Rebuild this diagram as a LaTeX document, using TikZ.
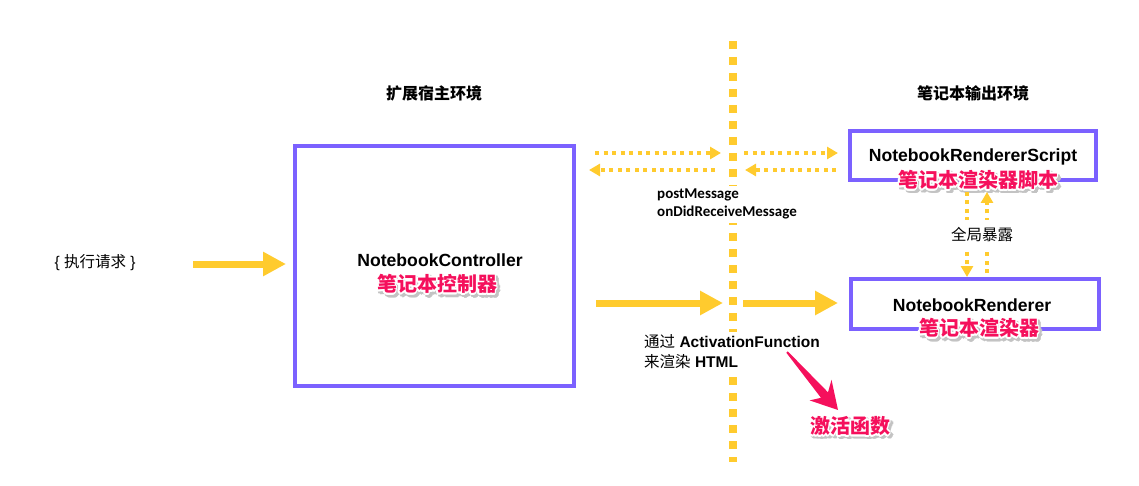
\documentclass[tikz,border=0pt]{standalone}
\usepackage{fontspec}
\setmainfont{Liberation Sans}
\newfontfamily\cjk{Noto Sans CJK SC}
\newfontfamily\calib{Carlito}
\usetikzlibrary{arrows.meta}
\definecolor{boxpurple}{RGB}{123,97,255}
\definecolor{arryellow}{RGB}{255,203,46}
\definecolor{hotpink}{RGB}{245,16,92}
\definecolor{shadowgray}{RGB}{195,195,195}
\tikzset{
  boxnode/.style={draw=boxpurple, line width=3.5pt, inner sep=0pt},
  bigarrow/.style={arryellow, line width=7pt, -{Triangle[length=23pt,width=23pt]}},
  dotarrow/.style={arryellow, line width=4pt, dash pattern=on 4pt off 4.5pt, -{Triangle[length=11pt,width=12pt]}},
  divider/.style={arryellow, line width=8pt, dash pattern=on 8pt off 8pt},
  plaintxt/.style={inner sep=0pt, font=\fontsize{15.5}{18}\selectfont},
  titletxt/.style={inner sep=0pt, font=\fontsize{16}{19}\selectfont\cjk\bfseries},
  nametxt/.style={inner sep=0pt, font=\fontsize{17.6}{20}\selectfont\bfseries},
  msgtxt/.style={inner xsep=0pt, inner ysep=3pt, fill=white, anchor=west, font=\fontsize{15}{18}\selectfont\calib\bfseries},
  pinktxt/.style={inner sep=0pt, text=hotpink, font=\fontsize{20}{24}\selectfont\cjk\bfseries},
  pinkhalo/.style={pinktxt, text=white},
  pinkshadow/.style={pinktxt, text=shadowgray},
}
\newcommand\glowtext[3]{%
  \foreach \ang in {0,30,...,330}{\node[pinkshadow, shift={(\ang:1.9)}, shift={(2.2,2.4)}] (#1-s\ang) at (#2) {#3};}
  \foreach \ang in {0,30,...,330}{\node[pinkhalo, shift={(\ang:1.9)}] (#1-h\ang) at (#2) {#3};}
  \node[pinktxt] (#1) at (#2) {#3};%
}
\begin{document}
\begin{tikzpicture}[x=1pt,y=-1pt]
\useasboundingbox (0,0) rectangle (1139,486);

% divider
\coordinate (divTop) at (733,41);
\coordinate (divBot) at (733,462);
\draw[divider] (divTop) -- (divBot);

% titles
\node[titletxt] (hostT) at (434,93) {扩展宿主环境};
\node[titletxt] (outT) at (973,93) {笔记本输出环境};

% boxes
\node[boxnode, minimum width=279, minimum height=240] (ctrl) at (434.5,266) {};
\node[boxnode, minimum width=246, minimum height=49] (script) at (973,155.5) {};
\node[boxnode, minimum width=248, minimum height=50] (rend) at (975,304) {};

% request
\node[plaintxt] (req) at (95,263) {\{ {\cjk 执行请求} \}};
\coordinate (reqA) at (193,264);
\coordinate (reqB) at (286,264);
\draw[bigarrow] (reqA) -- (reqB);

% controller texts
\node[nametxt] (ctrlT) at (440,260) {NotebookController};
\glowtext{ctrlP}{437,284}{笔记本控制器}

% script texts
\node[nametxt] (scriptT) at (973,157) {NotebookRendererScript};
\glowtext{scriptP}{978,180}{笔记本渲染器脚本}

% renderer texts
\node[nametxt] (rendT) at (972,305) {NotebookRenderer};
\glowtext{rendP}{979,328}{笔记本渲染器}

% dotted message arrows
\coordinate (m1a) at (595,153); \coordinate (m1b) at (721,153);
\coordinate (m2a) at (744,153); \coordinate (m2b) at (838,153);
\coordinate (m3a) at (715,170); \coordinate (m3b) at (589,170);
\coordinate (m4a) at (836,170); \coordinate (m4b) at (745,170);
\draw[dotarrow] (m1a) -- (m1b);
\draw[dotarrow] (m2a) -- (m2b);
\draw[dotarrow] (m3a) -- (m3b);
\draw[dotarrow] (m4a) -- (m4b);
\node[msgtxt] (pm) at (657,195) {postMessage};
\node[msgtxt] (odrm) at (657,213) {onDidReceiveMessage};

% render arrows
\coordinate (r1a) at (596,303); \coordinate (r1b) at (723,303);
\coordinate (r2a) at (743,303); \coordinate (r2b) at (838,303);
\draw[bigarrow] (r1a) -- (r1b);
\draw[bigarrow] (r2a) -- (r2b);
\node[plaintxt, anchor=west, fill=white, inner ysep=3pt] (act1) at (644,342) {{\cjk 通过} \textbf{ActivationFunction}};
\node[plaintxt, anchor=west, fill=white, inner ysep=3pt] (act2) at (644,362) {{\cjk 来渲染} \textbf{HTML}};

% global exposure arrows
\coordinate (g1a) at (967,192); \coordinate (g1b) at (967,277);
\coordinate (g2a) at (987,273); \coordinate (g2b) at (987,192);
\draw[dotarrow] (g1a) -- (g1b);
\draw[dotarrow] (g2a) -- (g2b);
\node[plaintxt, fill=white, minimum width=64, minimum height=29] (glob) at (982,235) {\cjk 全局暴露};

% pink pointer
\coordinate (pA) at (786.3,352.7);
\coordinate (pB) at (821,397.8);
\coordinate (pC) at (809.6,400.4);
\coordinate (pT) at (838,410);
\coordinate (pD) at (831.5,379.8);
\coordinate (pE) at (828,392.3);
\coordinate (pF) at (787.7,351.3);
\fill[shadowgray, shift={(2.5,2.5)}] (pA) -- (pB) -- (pC) -- (pT) -- (pD) -- (pE) -- (pF) -- cycle;
\draw[white, fill=white, line width=4pt, line join=round] (pA) -- (pB) -- (pC) -- (pT) -- (pD) -- (pE) -- (pF) -- cycle;
\fill[hotpink] (pA) -- (pB) -- (pC) -- (pT) -- (pD) -- (pE) -- (pF) -- cycle;
\glowtext{actP}{850,426}{激活函数}
\end{tikzpicture}
\end{document}
